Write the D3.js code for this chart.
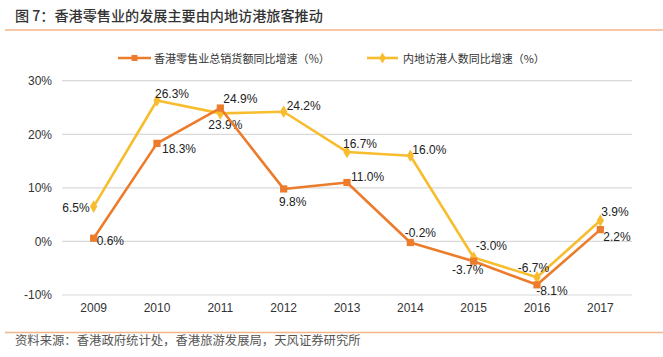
<!DOCTYPE html>
<html><head><meta charset="utf-8">
<script src="https://cdn.jsdelivr.net/npm/d3@7"></script>
<style>
body{margin:0;background:#fff;}
svg{display:block;font-family:"Liberation Sans",Arial,sans-serif;}
.cjk{font-family:"Noto Sans CJK SC","Liberation Sans",sans-serif;}
</style></head><body>
<svg id="c" width="663" height="357"></svg>
<script>
const years = ["2009","2010","2011","2012","2013","2014","2015","2016","2017"];
const retail = [0.6, 18.3, 24.9, 9.8, 11.0, -0.2, -3.7, -8.1, 2.2];
const visitors = [6.5, 26.3, 23.9, 24.2, 16.7, 16.0, -3.0, -6.7, 3.9];
const yTicks = [-10, 0, 10, 20, 30];
const seriesNames = ["香港零售业总销货额同比增速（%）", "内地访港人数同比增速（%）"];
const title = "图 7：香港零售业的发展主要由内地访港旅客推动";
const source = "资料来源：香港政府统计处，香港旅游发展局，天风证券研究所";
// label placement (anchor, dx, dy) per point
const retailLbl = [["start",3,3],["start",5,5.5],["start",3,-9],["middle",9,13.5],["start",4,-5],["middle",10,-9],["middle",-6,9],["middle",15,6],["start",3,7]];
const visitLbl = [["end",-4,1.5],["start",-2,-7],["middle",5,11.5],["start",3,-6],["start",-4,-8],["start",2,-6],["start",2,-11],["middle",-3.5,-9],["start",1,-9]];

const ORANGE = "#EC7C2C", YELLOW = "#F7BD2E";
const svg = d3.select("#c");

function fit(sel, w){
  const fs = +sel.attr("font-size");
  const m = sel.node().getComputedTextLength();
  if (m > 0) sel.attr("font-size", fs * w / m);
  return sel;
}

fit(svg.append("text").attr("class","cjk").attr("x",15).attr("y",15).attr("dominant-baseline","central")
  .attr("font-size",14).attr("font-weight",500).attr("fill","#333").text(title), 308);
svg.append("line").attr("x1",5).attr("x2",663).attr("y1",30).attr("y2",30).attr("stroke","#F2B48A").attr("stroke-width",1.5);
svg.append("line").attr("x1",5).attr("x2",663).attr("y1",332.5).attr("y2",332.5).attr("stroke","#F2B48A").attr("stroke-width",1.5);
fit(svg.append("text").attr("class","cjk").attr("x",15).attr("y",340).attr("dominant-baseline","central")
  .attr("font-size",12.5).attr("fill","#555").text(source), 346);

const x = d3.scaleBand().domain(years).range([62,632]);
const y = d3.scaleLinear().domain([-10,30]).range([295,80.7]);
const cx = d => x(d) + x.bandwidth()/2;

// grid
svg.append("g").selectAll("line").data(yTicks).join("line")
  .attr("x1",62).attr("x2",632).attr("y1",d=>y(d)).attr("y2",d=>y(d))
  .attr("stroke","#d9d9d9").attr("stroke-width",1.2);

const yAxis = d3.axisLeft(y).tickValues(yTicks).tickFormat(d=>d+"%").tickSize(0).tickPadding(0);
const ga = svg.append("g").attr("transform","translate(52,0)").call(yAxis);
ga.select(".domain").remove();
ga.selectAll("text").attr("font-size",12).attr("fill","#333").attr("font-family","Liberation Sans, Arial, sans-serif");

const xAxis = d3.axisBottom(x).tickSize(0).tickPadding(0);
const gx = svg.append("g").attr("transform","translate(0,303)").call(xAxis);
gx.select(".domain").remove();
gx.selectAll("text").attr("font-size",12).attr("fill","#333").attr("font-family","Liberation Sans, Arial, sans-serif");

const line = d3.line().x((d,i)=>cx(years[i])).y(d=>y(d));

function drawSeries(vals, color, shape, lbl){
  svg.append("path").datum(vals).attr("d",line).attr("fill","none")
    .attr("stroke",color).attr("stroke-width",2.6).attr("stroke-linejoin","round");
  svg.append("g").selectAll("path").data(vals).join("path")
    .attr("transform",(d,i)=>`translate(${cx(years[i])},${y(d)})`)
    .attr("d", d3.symbol().type(shape==="sq"?d3.symbolSquare:d3.symbolDiamond).size(shape==="sq"?52:46))
    .attr("fill",color);
  svg.append("g").selectAll("text").data(vals).join("text")
    .attr("x",(d,i)=>cx(years[i])+lbl[i][1]).attr("y",(d,i)=>y(d)+lbl[i][2])
    .attr("text-anchor",(d,i)=>lbl[i][0]).attr("dominant-baseline","central")
    .attr("font-size",12).attr("fill","#222").text(d=>d.toFixed(1)+"%");
}
drawSeries(visitors, YELLOW, "dm", visitLbl);
drawSeries(retail, ORANGE, "sq", retailLbl);

// legend
const leg = [{n:seriesNames[0],c:ORANGE,s:"sq",x1:118,x2:151,tx:154,w:176},{n:seriesNames[1],c:YELLOW,s:"dm",x1:367,x2:398,tx:403,w:142}];
leg.forEach(l=>{
  svg.append("line").attr("x1",l.x1).attr("x2",l.x2).attr("y1",58).attr("y2",58).attr("stroke",l.c).attr("stroke-width",2.6);
  svg.append("path").attr("transform",`translate(${(l.x1+l.x2)/2},58)`)
    .attr("d",d3.symbol().type(l.s==="sq"?d3.symbolSquare:d3.symbolDiamond).size(36)).attr("fill",l.c);
  fit(svg.append("text").attr("class","cjk").attr("x",l.tx).attr("y",58).attr("dominant-baseline","central")
    .attr("font-size",12).attr("fill","#333").text(l.n), l.w);
});
</script></body></html>
